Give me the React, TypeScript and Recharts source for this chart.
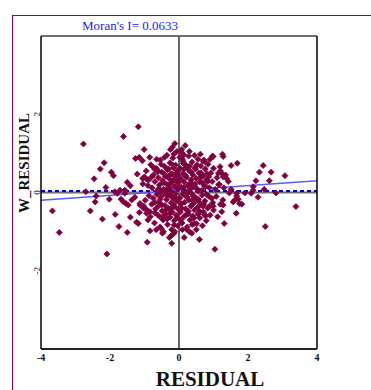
import React from "react";
import { ScatterChart, Scatter, XAxis, YAxis, ReferenceLine } from "recharts";

const title = "Moran's I= 0.0633";
const xLabel = "RESIDUAL";
const yLabel = "W_RESIDUAL";
const xTicks = [-4, -2, 0, 2, 4];
const yTicks = [-2, 0, 2];
const meanW = 0.04;
const regStart = { x: -4, y: -0.2 };
const regEnd = { x: 4, y: 0.3 };

// residual (x) values
const residual: number[] = [
  -1.18, -1.61, -2.77, -1.01, -0.19, -1.26, -1.15, -1.06, -2.17, -2.28, -1.96, -1.9, -1.21, -2.46, -1.5, -1.41, -2.12, -2.7, -2.4, -1.71, -1.57, -2.02, -2.43, -3.67, -2.57, -1.85, -2.22, -1.41, -1.15, -1.23, -1.18, -1.74, -3.47, -1.5, -0.92, -2.09, -0.84, -0.52, -0.48, -0.23, -0.14, -0.12, 3.39, 0.08, 0.14, 0.97, 1.26, 1.28, 0.72, 1.51, 1.69, 2.44, 2.33, 2.67, 3.07, 2.23, 2.62, 2.15, 2.15, 2.47, 1.43, 1.24, 1.28, 1.38, 1.17, 1.51, 2.81, 2.29, 2.09, 1.91, 1.67, 1.67, 1.72, 1.62, 1.57, 1.82, 1.46, 1.66, 1.31, 2.5, 0.59, 1.04, -0.21, -1.13, -0.94, 0.44, 0.37, 0.22, 0.73, 1.24, 1.28, 1.27, 0.99, 0.98, 1.75, 0.99, 0.78, 0.12, 1.19, 1.14,
  -1.05, -0.94, -0.79, -0.7, -0.63, -1.86, -1.79, -1.57, -1.68, -1.61, -1.54, -1.47, -1.37, -1.28, -1.13, -1.03, -0.94, -0.84, -0.7, -0.55,
  -0.95, -0.88, -0.82, -0.78, -0.74, -0.7, -0.66, -0.63, -0.6, -0.57, -0.54, -0.5, -0.48, -0.45, -0.42, -0.4, -0.37, -0.35, -0.33, -0.3, -0.28, -0.26, -0.24, -0.22, -0.2, -0.18, -0.16, -0.14, -0.12, -0.1, -0.08, -0.06, -0.05, -0.03, -0.02, -0.9, -1.0, -1.05, -0.85, -0.65, -0.55, -0.38, -0.15, -0.25, -0.12, -0.42, -0.3, -0.75, -0.2, -0.6,
  0.03, 0.05, 0.07, 0.1, 0.12, 0.15, 0.17, 0.2, 0.22, 0.25, 0.28, 0.3, 0.32, 0.35, 0.38, 0.4, 0.43, 0.46, 0.5, 0.52, 0.55, 0.58, 0.6, 0.63, 0.66, 0.7, 0.73, 0.76, 0.8, 0.84, 0.88, 0.92, 0.96, 1.0, 1.05, 1.1, 1.15, 1.2, 1.3, 1.35, 0.08, 0.18, 0.3, 0.45, 0.62, 0.02, 0.15, 0.4, 0.7, 0.9,
  -0.98, -0.93, -0.87, -0.83, -0.79, -0.75, -0.71, -0.68, -0.64, -0.61, -0.58, -0.55, -0.52, -0.49, -0.46, -0.43, -0.41, -0.38, -0.36, -0.33, -0.31, -0.29, -0.26, -0.23, -0.21, -0.19, -0.17, -0.14, -0.12, -0.1, -0.08, -0.06, -0.04, -0.02, -1.02, -0.9, -0.66, -0.45, -0.28, -0.15, -0.6, -0.35, -0.22, -0.7, -0.05,
  0.02, 0.04, 0.06, 0.09, 0.11, 0.14, 0.16, 0.19, 0.21, 0.24, 0.27, 0.29, 0.32, 0.34, 0.37, 0.4, 0.42, 0.45, 0.48, 0.51, 0.54, 0.57, 0.6, 0.64, 0.67, 0.71, 0.75, 0.79, 0.83, 0.87, 0.9, 0.95, 1.0, 1.08, 1.12, 1.2, 0.1, 0.3, 0.5, 0.15, 0.68, 0.25, 0.55, 0.8, 0.38,
  -0.58, -0.5, -0.43, -0.36, -0.29, -0.22, -0.15, -0.08, -0.01, 0.06, 0.13, 0.2, 0.27, 0.34, 0.41, 0.48, 0.55, 0.62, 0.69, 0.76, 0.83,
  -0.55, -0.47, -0.39, -0.32, -0.24, -0.17, -0.09, 0.0, 0.08, 0.16, 0.23, 0.31, 0.39, 0.47, 0.56, 0.64, 0.72, 0.81, 0.88,
  -0.52, -0.44, -0.34, -0.26, -0.18, -0.11, -0.03, 0.05, 0.12, 0.19, 0.26, 0.36, 0.44, 0.52, 0.6, 0.68, 0.77, 0.86,
];

// spatially lagged residual (y) values
const wResidual: number[] = [
  1.68, 1.43, 1.24, 1.1, 1.16, 0.87, 0.9, 0.81, 0.76, 0.6, 0.52, 0.43, 0.47, 0.35, 0.26, 0.17, 0.13, 0.02, -0.09, 0.06, 0.06, -0.17, -0.24, -0.47, -0.47, -0.56, -0.68, -0.63, -0.51, -0.76, -0.79, -0.87, -1.02, -1.02, -1.27, -1.57, -0.98, -0.92, -1.04, -1.11, -0.83, -1.0, -0.36, 1.02, 0.96, 0.93, 0.98, 0.92, 0.83, 0.69, 0.75, 0.69, 0.52, 0.52, 0.43, 0.3, 0.3, 0.15, 0.06, 0.08, 0.28, 0.49, 0.4, 0.36, 0.21, 0.08, -0.01, -0.12, -0.02, -0.01, -0.02, -0.09, -0.17, -0.19, -0.24, -0.3, -0.01, -0.53, -0.79, -0.87, -1.2, -1.45, -1.3, -0.32, -0.53, -0.79, -1.04, -0.94, -0.56, -0.49, -0.32, -0.19, -0.35, -0.26, -0.28, 0.92, 0.77, 0.75, 0.66, 0.49,
  0.36, 0.34, 0.4, 0.59, 0.53, 0.02, -0.02, -0.02, -0.17, -0.24, -0.28, -0.32, -0.19, -0.12, -0.28, -0.4, -0.45, -0.49, -0.52, -0.62,
  0.55, 0.32, 0.71, 0.12, 0.45, 0.28, 0.62, 0.05, 0.38, 0.19, 0.83, 0.52, 0.3, 0.08, 0.67, 0.41, 0.22, 0.95, 0.58, 0.12, 0.35, 0.76, 0.47, 0.03, 0.26, 0.88, 0.63, 0.15, 0.42, 0.7, 0.31, 1.05, 0.55, 0.09, 0.24, 0.18, 0.4, 0.22, 0.9, 0.85, 0.02, 0.05, 0.98, 1.1, 1.25, 0.9, 0.6, 0.65, 0.48, 0.55,
  0.62, 0.35, 0.14, 0.85, 0.48, 0.27, 0.04, 0.7, 0.39, 0.18, 0.93, 0.55, 0.08, 0.32, 0.78, 0.45, 0.2, 0.63, 0.36, 0.1, 0.85, 0.5, 0.27, 0.68, 0.05, 0.42, 0.18, 0.6, 0.33, 0.72, 0.12, 0.5, 0.28, 0.62, 0.08, 0.38, 0.2, 0.55, 0.12, 0.45, 1.1, 1.2, 1.05, 0.95, 0.98, 0.9, 0.6, 0.15, 0.8, 0.85,
  -0.2, -0.45, -0.08, -0.62, -0.3, -0.15, -0.78, -0.42, -0.05, -0.58, -0.25, -0.88, -0.12, -0.47, -0.7, -0.03, -0.33, -0.55, -0.18, -0.82, -0.4, -0.07, -0.63, -0.26, -0.95, -0.5, -0.14, -0.72, -0.36, -0.04, -0.58, -0.22, -0.85, -0.43, -0.35, -0.7, -0.95, -1.0, -1.15, -1.05, -0.35, -0.68, -0.1, -0.25, -0.65,
  -0.15, -0.5, -0.3, -0.78, -0.05, -0.62, -0.25, -0.42, -0.1, -0.88, -0.55, -0.2, -0.7, -0.35, -0.03, -0.6, -0.28, -0.45, -0.12, -0.8, -0.38, -0.18, -0.65, -0.3, -0.07, -0.5, -0.22, -0.72, -0.4, -0.1, -0.58, -0.15, -0.45, -0.1, -0.62, -0.3, -0.95, -1.0, -0.95, -1.15, -0.85, -0.02, -0.55, -0.05, -0.82,
  0.1, -0.32, 0.48, -0.06, 0.2, -0.4, 0.33, -0.15, 0.55, -0.28, 0.12, 0.42, -0.48, 0.25, -0.1, 0.6, -0.22, 0.38, -0.35, 0.15, 0.28,
  -0.18, 0.25, -0.45, 0.4, 0.05, -0.3, 0.5, 0.3, -0.4, 0.45, -0.12, 0.68, -0.2, 0.22, 0.03, 0.5, -0.3, 0.48, -0.35,
  0.72, -0.6, 0.6, -0.52, 0.7, 0.15, 0.45, -0.7, 0.8, -0.58, 0.62, 0.52, -0.65, 0.7, -0.48, 0.25, -0.6, 0.4,
];

const points = residual.map((x, i) => ({ x, y: wResidual[i] }));

const serif = "'Liberation Serif', 'Times New Roman', serif";
const maroon = "#7f0040";

const Diamond = (props: any) => {
  const { cx, cy } = props;
  if (cx == null || cy == null) return null;
  const r = 3;
  return (
    <path
      d={`M${cx},${cy - r}L${cx + r},${cy}L${cx},${cy + r}L${cx - r},${cy}Z`}
      fill={maroon}
      stroke={maroon}
      strokeWidth={0.8}
    />
  );
};

const XTick = (props: any) => {
  const { x, y, payload } = props;
  return (
    <text x={x} y={y} dy={8} textAnchor="middle" fontFamily={serif} fontWeight="bold" fontSize={10} fill="#111">
      {payload.value}
    </text>
  );
};

const YTick = (props: any) => {
  const { x, y, payload } = props;
  return (
    <text
      x={x}
      y={y}
      transform={`rotate(-90 ${x} ${y})`}
      textAnchor="middle"
      fontFamily={serif}
      fontSize={9}
      fill="#111"
    >
      {payload.value}
    </text>
  );
};

export default function App() {
  return (
    <div style={{ position: "absolute", left: 0, top: 0, width: 371, height: 390, background: "#fff" }}>
      <div
        style={{
          position: "absolute",
          left: 12,
          top: 15,
          width: 400,
          height: 400,
          borderLeft: "1px solid #99004a",
          borderTop: "1px solid #99004a",
        }}
      />
      <div style={{ position: "absolute", left: 0, top: 0 }}>
        <ScatterChart width={371} height={390} margin={{ top: 35, right: 53, bottom: 21, left: 31 }}>
          <XAxis
            type="number"
            dataKey="x"
            domain={[-4, 4]}
            ticks={xTicks}
            height={20}
            tickLine={false}
            tickSize={0}
            tickMargin={4}
            axisLine={{ stroke: "#222", strokeWidth: 2 }}
            tick={<XTick />}
            interval={0}
            allowDataOverflow
          />
          <XAxis
            xAxisId="top"
            orientation="top"
            type="number"
            domain={[-4, 4]}
            height={1}
            tick={false}
            tickLine={false}
            axisLine={{ stroke: "#6e6e6e", strokeWidth: 2 }}
          />
          <YAxis
            type="number"
            dataKey="y"
            domain={[-4, 4]}
            ticks={yTicks}
            width={10}
            tickLine={false}
            tickSize={0}
            tickMargin={1}
            axisLine={{ stroke: "#000", strokeWidth: 1.5 }}
            tick={<YTick />}
            interval={0}
            allowDataOverflow
          />
          <YAxis
            yAxisId="right"
            orientation="right"
            type="number"
            domain={[-4, 4]}
            width={1}
            tick={false}
            tickLine={false}
            axisLine={{ stroke: "#000", strokeWidth: 1.5 }}
          />
          <ReferenceLine x={0} stroke="#000" strokeWidth={1.2} />
          <ReferenceLine y={0} stroke="#6e6e6e" strokeWidth={2} />
          <ReferenceLine y={meanW} stroke="#0000cc" strokeWidth={2} strokeDasharray="4 3" />
          <ReferenceLine
            segment={[regStart, regEnd]}
            stroke="#5a5aff"
            strokeWidth={1.6}
          />
          <Scatter data={points} shape={<Diamond />} isAnimationActive={false} />
        </ScatterChart>
      </div>
      <svg width={371} height={390} style={{ position: "absolute", left: 0, top: 0, pointerEvents: "none" }}>
        <text x={130} y={30} textAnchor="middle" fontFamily={serif} fontSize={13} fill="#2424f0">
          {title}
        </text>
        <text
          x={29}
          y={163}
          transform="rotate(-90 29 163)"
          textAnchor="middle"
          fontFamily={serif}
          fontWeight="bold"
          fontSize={15}
          fill="#111"
        >
          {yLabel}
        </text>
        <text x={210} y={386} textAnchor="middle" fontFamily={serif} fontWeight="bold" fontSize={21} fill="#111">
          {xLabel}
        </text>
      </svg>
    </div>
  );
}
